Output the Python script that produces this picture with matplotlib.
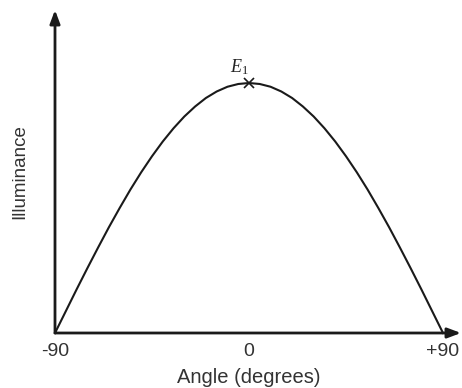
import matplotlib
matplotlib.use("Agg")
import matplotlib.pyplot as plt

# angle (degrees) and relative illuminance
angles = [-90, -85, -80, -75, -70, -65, -60, -55, -50, -45, -40, -35, -30, -25, -20, -15, -10, -5,
          0, 5, 10, 15, 20, 25, 30, 35, 40, 45, 50, 55, 60, 65, 70, 75, 80, 85, 90]
illum = [0.000, 0.087, 0.174, 0.259, 0.342, 0.423, 0.500, 0.574, 0.643, 0.707, 0.766, 0.819, 0.866,
         0.906, 0.940, 0.966, 0.985, 0.996, 1.000, 0.996, 0.985, 0.966, 0.940, 0.906, 0.866, 0.819,
         0.766, 0.707, 0.643, 0.574, 0.500, 0.423, 0.342, 0.259, 0.174, 0.087, 0.000]
tick_pos = [-90, 0, 90]
tick_labels = ["-90", "0", "+90"]
peak_label = r"$E_\mathit{1}$"

plt.rcParams['font.family'] = ['Liberation Sans', 'DejaVu Sans']
plt.rcParams['mathtext.fontset'] = 'custom'
plt.rcParams['mathtext.it'] = 'Liberation Serif:italic'
plt.rcParams['mathtext.rm'] = 'Liberation Serif'

W, H = 462, 388
fig = plt.figure(figsize=(W / 100, H / 100), dpi=100)
# axes spans from x-axis (y=333px) to arrow tip (y=10px); -90 at 55px, +90 at 443px
ax = fig.add_axes([55 / W, (H - 333) / H, 388 / W, 323 / H])
ymax = 323 / 250
ax.set_xlim(-90, 90)
ax.set_ylim(0, ymax)

ax.plot(angles, illum, color='#1a1a1a', lw=1.5, solid_joinstyle='round', clip_on=False)
ax.plot([0], [max(illum)], marker='x', color='#1a1a1a', ms=7, mew=1.2, clip_on=False)
ax.annotate(peak_label, xy=(0, max(illum)), xytext=(-7, 4), textcoords='offset points',
            ha='center', va='bottom', fontsize=13, color='#222')

for s in ax.spines.values():
    s.set_visible(False)

# arrow axes
xend = 90 + 18 / 388 * 180
ax.annotate('', xy=(xend, 0), xytext=(-90, 0), xycoords='data',
            arrowprops=dict(arrowstyle='-|>,head_length=0.8,head_width=0.3', color='#1a1a1a', lw=2,
                            shrinkA=0, shrinkB=0), annotation_clip=False)
ax.annotate('', xy=(-90, ymax), xytext=(-90, 0), xycoords='data',
            arrowprops=dict(arrowstyle='-|>,head_length=0.8,head_width=0.3', color='#1a1a1a', lw=2,
                            shrinkA=0, shrinkB=0), annotation_clip=False)

ax.set_xticks(tick_pos)
ax.set_xticklabels(tick_labels, fontsize=14, color='#333')
ax.get_xticklabels()[0].set_x(-91.5)
ax.set_yticks([])
ax.tick_params(axis='x', length=0, pad=7)
ax.set_xlabel("Angle (degrees)", fontsize=14.5, color='#333', labelpad=6)
ax.set_ylabel("Illuminance", fontsize=13.5, color='#333', labelpad=19)

fig.savefig("out.png", dpi=100)
